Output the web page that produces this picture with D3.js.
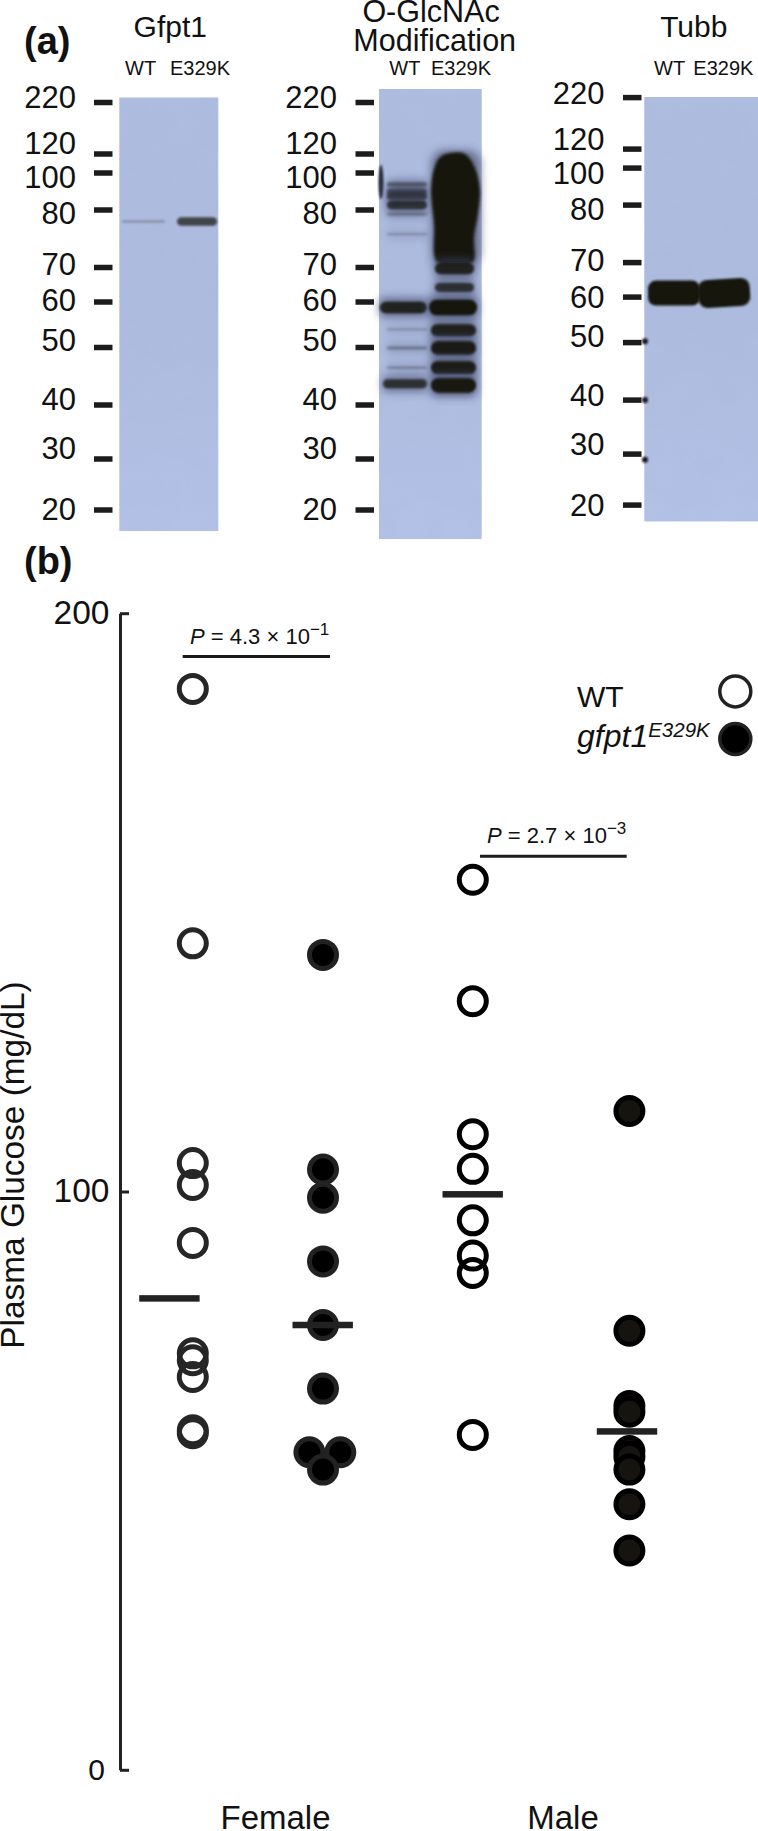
<!DOCTYPE html>
<html><head><meta charset="utf-8">
<script src="https://cdn.jsdelivr.net/npm/d3@7/dist/d3.min.js"></script>
<style>
html,body{margin:0;padding:0;background:#fff}
svg{display:block}
text{font-family:"Liberation Sans",Arial,sans-serif;fill:#111}
</style></head><body>
<script>
// ---------- western-blot data (apparent size in kDa, relative signal 0..1) ----------
const markerKda = [220,120,100,80,70,60,50,40,30,20];
const laneLabels = ["WT","E329K"];
const gfptWtKda = [78];      const gfptWtSignal = [0.2];
const gfptMutKda = [78];     const gfptMutSignal = [0.7];
const oglcWtKda = [93.8,90,87.5,82.7,79.3,75.8,58.8,54,49.9,46.5,43.7];
const oglcWtSignal = [0.42,0.5,0.62,0.7,0.24,0.16,0.84,0.16,0.28,0.2,0.72];
const oglcMutKda = [69.7,64.2,58.8,53.8,49.9,46.5,43.4];
const oglcMutSignal = [0.84,0.72,1,0.86,0.92,0.9,0.96];
const oglcSmearKda = [124,70.6];
const tubbWtKda = [61.3];    const tubbWtSignal = [1];
const tubbMutKda = [61.5];   const tubbMutSignal = [1];
const tubbLadderKda = [50.3,40,29.5];
// ---------- plasma glucose data (mg/dL) ----------
const sexes = ["Female","Male"];
const femaleWT = [187,143,105,101.2,91.2,72.1,70.9,68,58.8,58.3];
const femaleMut = [141,103.9,99,88,77,66,55,55,52];
const maleWT = [154,133,110,104,95.1,89,86,58];
const maleMut = [114,76,63,62,55.2,54.2,52,46,38];
const groupMeans = [81.6,77,99.6,58.6];
const yTicks = [0,100,200];
const pFemale = ["4.3","−1"];
const pMale = ["2.7","−3"];

// ---------- layout ----------
const svg = d3.select("body").append("svg").attr("width",758).attr("height",1831);
const defs = svg.append("defs");
const font = "Liberation Sans";
function blur(id,s){defs.append("filter").attr("id",id).attr("x","-30%").attr("y","-150%").attr("width","160%").attr("height","400%")
  .append("feGaussianBlur").attr("stdDeviation",s);}
blur("b1",1.0);blur("b2",1.8);blur("b3",4);
const grad = defs.append("linearGradient").attr("id","blot").attr("x1",0).attr("y1",0).attr("x2",0).attr("y2",1);
grad.append("stop").attr("offset","0").attr("stop-color","#aebce0");
grad.append("stop").attr("offset","0.5").attr("stop-color","#adbbdf");
grad.append("stop").attr("offset","1").attr("stop-color","#b3c1e6");
// faint film mottling
const mot = defs.append("filter").attr("id","mottle").attr("x",0).attr("y",0).attr("width","100%").attr("height","100%");
mot.append("feTurbulence").attr("type","fractalNoise").attr("baseFrequency","0.035").attr("numOctaves",3).attr("seed",7);
mot.append("feColorMatrix").attr("type","matrix").attr("values","0 0 0 0 0.35  0 0 0 0 0.42  0 0 0 0 0.62  0.55 0 0 0 -0.2");

const markerY = [102.5,154,173,210,267.5,302,347.5,405,459,510];
const labelShift = [5.4,-0.4,15,14,7.5,9.4,3.5,4.6,0,9.6];
const signalH = d3.scalePow().exponent(2).domain([0,1]).range([2,15.5]);
const signalA = d3.scaleLinear().domain([0,1]).range([0.05,1]).clamp(true);
const bandColor = "#171409";

function panel(o){
  const y = d3.scaleLinear().domain(markerKda).range(markerY.map(v=>v+o.dy));
  const g = svg.append("g");
  g.append("rect").attr("x",o.x0).attr("y",o.top).attr("width",o.x1-o.x0).attr("height",o.bot-o.top).attr("fill","url(#blot)");
  g.append("rect").attr("x",o.x0).attr("y",o.top).attr("width",o.x1-o.x0).attr("height",o.bot-o.top).attr("filter","url(#mottle)").attr("opacity",.35);
  const ax = d3.axisLeft(y).tickValues(markerKda).tickSize(o.tickLen).tickPadding(o.pad);
  const a = g.append("g").attr("transform",`translate(${o.tickEnd},-0.5)`).call(ax);
  a.select(".domain").remove();
  a.selectAll("line").attr("stroke","#1c1c1c").attr("stroke-width",5.5);
  a.selectAll("text").attr("font-family",font).attr("font-size",31).attr("fill","#111")
    .attr("dy",0).attr("y",(d,i)=>labelShift[i]+o.labDy);
  (o.title).forEach(t=>g.append("text").attr("x",t[0]).attr("y",t[1]).attr("text-anchor","middle").attr("font-size",t[2]||30).text(t[3]));
  laneLabels.forEach((l,i)=>g.append("text").attr("x",o.lab[i]).attr("y",75).attr("font-size",20).text(l));
  return {g,y};
}
function bands(p,kda,sig,x0,x1,halo){
  const sel = p.g.append("g");
  const ex = k=>(typeof x0==="function"?x0(k):[x0,x1]);
  kda.forEach((k,i)=>{
    const h = signalH(sig[i]), yy = p.y(k), [a,b]=ex(k);
    if(halo) sel.append("rect").attr("class","halo").attr("x",a-1).attr("width",b-a+2).attr("y",yy-h/2-4).attr("height",h+8).attr("rx",6)
      .attr("fill","#3d4463").attr("opacity",signalA(sig[i])*0.8).attr("filter","url(#b3)");
    sel.append("rect").attr("x",a).attr("width",b-a).attr("y",yy-h/2).attr("height",h).attr("rx",h/2)
      .attr("fill",bandColor).attr("opacity",signalA(sig[i])).attr("filter","url(#b1)");
  });
  return sel;
}

// Panel 1
const p1 = panel({x0:119.3,x1:218.3,top:97.5,bot:531,dy:0,tickEnd:112.5,tickLen:18.5,pad:18,labDy:0,
  title:[[170.3,36.8,30,"Gfpt1"]],lab:[125,170]});
bands(p1,gfptWtKda,gfptWtSignal,122,165);
bands(p1,gfptMutKda,gfptMutSignal,177,217);

// Panel 2
const p2 = panel({x0:379,x1:481.7,top:89,bot:539,dy:0,tickEnd:374,tickLen:18.5,pad:18.5,labDy:0,
  title:[[431,22,30.5,"O-GlcNAc"],[434.7,51,30.5,"Modification"]],lab:[389.3,431]});
p2.g.append("ellipse").attr("cx",381).attr("cy",p2.y(100)+9).attr("rx",2.5).attr("ry",17).attr("fill","#2a2d40").attr("filter","url(#b1)");
bands(p2,oglcWtKda,oglcWtSignal,k=>k>58&&k<60?[380,427]:k<45?[383,427]:[387,427],null,true);
p2.g.append("rect").attr("x",431).attr("width",50).attr("y",p2.y(oglcSmearKda[0])-2).attr("height",p2.y(oglcSmearKda[1])-p2.y(oglcSmearKda[0])+4).attr("rx",14)
  .attr("fill","#3a3f5c").attr("opacity",.6).attr("filter","url(#b3)");
p2.g.append("path").attr("fill",bandColor).attr("filter","url(#b2)")
  .attr("d",(()=>{const t=p2.y(oglcSmearKda[0]),b=p2.y(oglcSmearKda[1]);
    const ln=d3.line().curve(d3.curveCatmullRomClosed.alpha(.5));
    return ln([[450,t+1],[465,t+2],[475,t+16],[480,t+38],[478,t+62],[474,t+85],[473,b-2],[455,b],[437,b-2],[434,t+72],[431,t+38],[434,t+17],[440,t+5]]);})());
bands(p2,oglcMutKda,oglcMutSignal,k=>k>58&&k<60?[429,477]:k>60?[435,474]:[431,476],null,true);

// Panel 3
const p3 = panel({x0:644.3,x1:758,top:97,bot:521.4,dy:-4.9,tickEnd:641.5,tickLen:18.5,pad:18.5,labDy:1,
  title:[[693.8,36.8,30,"Tubb"]],lab:[654,693.3]});
bands(p3,tubbWtKda,tubbWtSignal,648,700).selectAll("rect").attr("height",25).attr("y",p3.y(tubbWtKda[0])-12).attr("rx",8);
const tm = bands(p3,tubbMutKda,tubbMutSignal,698,750);
tm.attr("transform",`rotate(-3.5 724 ${p3.y(tubbMutKda[0])})`).selectAll("rect").attr("height",28).attr("y",p3.y(tubbMutKda[0])-13).attr("rx",9);
tubbLadderKda.forEach(k=>p3.g.append("circle").attr("cx",645).attr("cy",p3.y(k)+(k<35?3:0)).attr("r",3).attr("fill","#15151f").attr("filter","url(#b1)"));

// Panel letters
[["(a)",24,53.5],["(b)",24,574]].forEach(d=>svg.append("text").attr("x",d[1]).attr("y",d[2]).attr("font-size",38).attr("font-weight","bold").text(d[0]));

// ---------- glucose plot ----------
const y = d3.scaleLinear().domain([0,200]).range([1770.3,613.7]);
const groupX = d3.scaleOrdinal().domain(["fw","fm","mw","mm"]).range([192.8,323,472.8,629.4]);
const meanX = d3.scaleOrdinal().domain(["fw","fm","mw","mm"]).range([169.4,322.7,472.7,627]);
const axis = d3.axisLeft(y).tickValues(yTicks).tickSizeInner(-9).tickSizeOuter(0).tickPadding(11);
const ag = svg.append("g").attr("transform","translate(120,-0.5)").call(axis);
ag.select(".domain").attr("stroke","#222").attr("stroke-width",3);
ag.selectAll("line").attr("stroke","#222").attr("stroke-width",3);
ag.selectAll("text").attr("font-family",font).attr("fill","#111").attr("dy",0).attr("y",10)
  .attr("x",d=>d===0?-15:-10.5).attr("font-size",d=>d===0?30:33.5);

svg.append("text").attr("transform","translate(24,1165) rotate(-90)").attr("text-anchor","middle").attr("font-size",33.4).text("Plasma Glucose (mg/dL)");

const series = [
 {key:"fw",vals:femaleWT,fill:"none",stroke:"#262626"},
 {key:"fm",vals:femaleMut,fill:"#000",stroke:"#222"},
 {key:"mw",vals:maleWT,fill:"none",stroke:"#000"},
 {key:"mm",vals:maleMut,fill:"#15140e",stroke:"#000"}];
series.forEach(s=>{
  const dup = d3.rollup(s.vals,v=>v.length,v=>v);
  const seen = new Map();
  svg.append("g").selectAll("circle").data(s.vals).join("circle")
    .attr("cx",v=>{
      if(dup.get(v)<2) return groupX(s.key);
      const n=seen.get(v)||0; seen.set(v,n+1);
      return groupX(s.key)+(n===0?-13.6:17.3);})
    .attr("cy",v=>y(v)).attr("r",13.5).attr("fill",s.fill).attr("stroke",s.stroke).attr("stroke-width",5);
});
svg.append("g").selectAll("rect").data(series).join("rect")
  .attr("x",s=>meanX(s.key)-30.2).attr("width",60.4)
  .attr("y",(s,i)=>y(groupMeans[i])-3.25).attr("height",6.5).attr("fill","#222");

function pLabel(p,x,yText,x0,x1,yLine){
  const t = svg.append("text").attr("x",x).attr("y",yText).attr("font-size",22);
  t.append("tspan").attr("font-style","italic").text("P");
  t.append("tspan").text(` = ${p[0]} × 10`);
  t.append("tspan").attr("font-size",17).attr("dy",-9).text(p[1]);
  svg.append("line").attr("x1",x0).attr("x2",x1).attr("y1",yLine).attr("y2",yLine).attr("stroke","#1a1a1a").attr("stroke-width",3);
}
pLabel(pFemale,190,643.5,182.7,330,656.4);
pLabel(pMale,487,843,480,626.7,856.3);

// Legend
svg.append("text").attr("x",577).attr("y",706.5).attr("font-size",30).text("WT");
const lg = svg.append("text").attr("x",577).attr("y",747).attr("font-size",32).attr("font-style","italic");
lg.append("tspan").text("gfpt1");
lg.append("tspan").attr("font-size",20.5).attr("dy",-10.5).text("E329K");
svg.append("circle").attr("cx",735.3).attr("cy",691.4).attr("r",15.5).attr("fill","none").attr("stroke","#222").attr("stroke-width",3.5);
svg.append("circle").attr("cx",735.3).attr("cy",739).attr("r",15.5).attr("fill","#000").attr("stroke","#222").attr("stroke-width",3.5);

// Category labels
[[sexes[0],275.5],[sexes[1],563]].forEach(d=>svg.append("text").attr("x",d[1]).attr("y",1829).attr("text-anchor","middle").attr("font-size",33).text(d[0]));
</script>
</body></html>
